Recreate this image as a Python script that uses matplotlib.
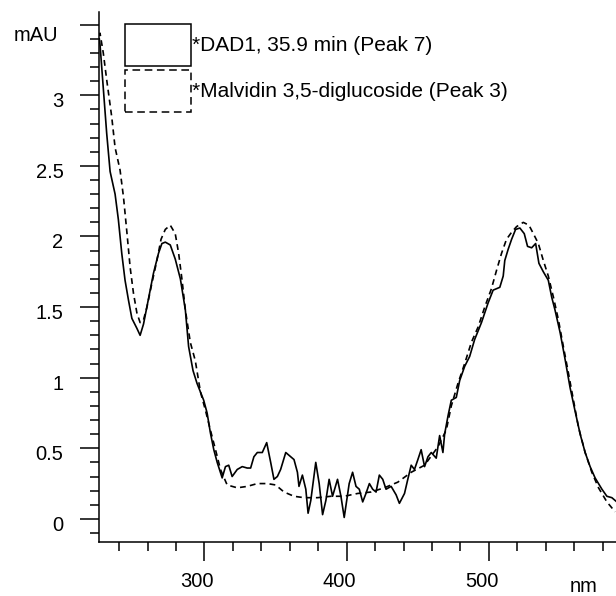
import matplotlib
matplotlib.use("Agg")
import matplotlib.pyplot as plt
from matplotlib.patches import Patch
from matplotlib.transforms import ScaledTranslation

# DAD1 spectrum of the sample peak (solid)
wl_sample = [226.1, 226.6, 228.9, 231.3, 233.7, 237.2, 239.5, 241.9, 244.2, 246.6,
             249.0, 252.5, 254.8, 257.2, 260.7, 264.2, 267.7, 270.1, 272.5, 276.0,
             279.5, 283.1, 286.6, 288.9, 292.0, 294.8, 299.5, 301.9, 304.2, 306.6,
             309.0, 312.5, 314.8, 317.1, 319.5, 323.1, 326.6, 330.1, 332.5, 334.8,
             337.2, 340.7, 343.8, 346.6, 348.9, 351.3, 353.6, 357.2, 359.5, 363.0,
             365.4, 366.5, 368.9, 371.3, 372.9, 374.8, 378.3, 380.7, 383.1, 385.4,
             387.7, 390.1, 393.6, 396.0, 398.3, 401.8, 404.2, 406.6, 408.9, 411.3,
             413.6, 416.0, 418.3, 420.7, 423.0, 425.4, 427.7, 431.3, 434.8, 437.1,
             440.7, 443.0, 445.4, 447.7, 450.1, 452.4, 454.8, 457.2, 459.5, 463.0,
             465.4, 467.7, 468.9, 471.3, 473.6, 477.1, 479.5, 483.0, 486.5, 490.0,
             494.8, 499.5, 503.0, 507.7, 510.1, 511.2, 513.6, 516.0, 518.8, 521.8,
             524.9, 527.2, 530.1, 532.9, 535.2, 538.3, 541.8, 544.2, 546.5, 550.1,
             553.6, 557.1, 560.7, 564.2, 567.7, 571.2, 574.7, 579.5, 583.0, 586.5,
             590.0]
abs_sample = [3.40, 3.36, 3.05, 2.73, 2.46, 2.30, 2.12, 1.88, 1.69, 1.55,
              1.42, 1.35, 1.30, 1.38, 1.56, 1.74, 1.88, 1.95, 1.96, 1.94,
              1.84, 1.70, 1.48, 1.22, 1.05, 0.96, 0.84, 0.75, 0.61, 0.49,
              0.40, 0.29, 0.37, 0.38, 0.30, 0.35, 0.37, 0.36, 0.36, 0.44,
              0.47, 0.47, 0.54, 0.40, 0.28, 0.30, 0.35, 0.47, 0.45, 0.42,
              0.33, 0.23, 0.31, 0.21, 0.04, 0.13, 0.40, 0.25, 0.03, 0.13,
              0.28, 0.16, 0.28, 0.16, 0.01, 0.25, 0.33, 0.23, 0.21, 0.12,
              0.18, 0.25, 0.21, 0.19, 0.31, 0.28, 0.21, 0.23, 0.17, 0.11,
              0.18, 0.28, 0.38, 0.35, 0.42, 0.49, 0.37, 0.44, 0.47, 0.43,
              0.59, 0.47, 0.60, 0.73, 0.84, 0.86, 0.98, 1.08, 1.15, 1.27,
              1.39, 1.53, 1.62, 1.64, 1.72, 1.83, 1.91, 1.98, 2.05, 2.06,
              2.02, 1.93, 1.92, 1.95, 1.81, 1.75, 1.69, 1.57, 1.48, 1.32,
              1.13, 0.93, 0.76, 0.60, 0.47, 0.37, 0.29, 0.21, 0.16, 0.15,
              0.12]

# library spectrum of malvidin 3,5-diglucoside (dashed)
wl_std = [226.3, 226.6, 228.9, 231.3, 234.8, 237.2, 240.7, 243.1, 245.5, 247.8,
          250.1, 252.5, 254.8, 257.2, 259.6, 263.1, 266.6, 269.5, 272.5, 276.0,
          279.5, 281.9, 284.3, 286.6, 290.1, 293.6, 297.2, 300.7, 304.2, 307.8,
          311.3, 316.0, 323.1, 330.1, 337.2, 344.2, 350.1, 356.0, 363.0, 370.1,
          379.5, 388.9, 398.3, 407.8, 417.1, 426.5, 436.0, 445.4, 454.8, 464.2,
          470.1, 473.6, 478.3, 483.0, 487.7, 492.5, 497.1, 501.8, 505.4, 508.9,
          512.4, 516.0, 519.5, 524.2, 528.2, 531.3, 534.8, 538.3, 541.8, 545.4,
          548.9, 552.4, 556.0, 559.5, 563.0, 567.7, 572.4, 577.1, 583.0, 588.8]
abs_std = [3.42, 3.44, 3.30, 3.11, 2.85, 2.63, 2.47, 2.28, 2.03, 1.78,
           1.60, 1.46, 1.39, 1.41, 1.50, 1.67, 1.83, 1.98, 2.05, 2.08,
           2.02, 1.88, 1.69, 1.48, 1.25, 1.12, 0.90, 0.77, 0.63, 0.49,
           0.35, 0.24, 0.22, 0.23, 0.25, 0.25, 0.24, 0.19, 0.16, 0.15,
           0.15, 0.16, 0.16, 0.18, 0.19, 0.22, 0.26, 0.33, 0.38, 0.51,
           0.63, 0.80, 0.96, 1.10, 1.25, 1.36, 1.50, 1.63, 1.76, 1.88,
           1.98, 2.03, 2.07, 2.10, 2.08, 2.02, 1.95, 1.83, 1.72, 1.57,
           1.41, 1.22, 1.03, 0.84, 0.65, 0.47, 0.33, 0.22, 0.12, 0.05]

labels = ['*DAD1, 35.9 min (Peak 7)', '*Malvidin 3,5-diglucoside (Peak 3)']
x_major = [300, 400, 500]
y_major = [0, 0.5, 1, 1.5, 2, 2.5, 3, 3.5]
y_major_labels = ['0', '0.5', '1', '1.5', '2', '2.5', '3', 'mAU']

plt.rcParams['font.family'] = ['Liberation Sans', 'DejaVu Sans']

W, H = 616, 596
fig = plt.figure(figsize=(W / 100, H / 100), dpi=100)
ax = fig.add_axes([99.3 / W, 1 - 542.3 / H, 1 - 99.3 / W, (542.3 - 12) / H])

dash = (0, (3.5, 2.5))
ax.plot(wl_sample, abs_sample, color='black', lw=1.2)
ax.plot(wl_std, abs_std, color='black', lw=1.2, linestyle=dash)

ax.set_xlim(226.1, 589.4)
ax.set_ylim(-0.166, 3.59)

for side in ['top', 'right']:
    ax.spines[side].set_visible(False)
for side in ['left', 'bottom']:
    ax.spines[side].set_linewidth(1.1)

ax.set_xticks(x_major)
ax.set_xticks([v for v in range(240, 590, 20) if v not in x_major], minor=True)
ax.set_yticks(y_major)
ax.set_yticklabels(y_major_labels)
ax.set_yticks([round(-0.1 + 0.1 * i, 1) for i in range(37) if round(-0.1 + 0.1 * i, 1) not in y_major], minor=True)

ax.tick_params(which='major', direction='out', length=13.7, width=1.1, labelsize=14.5)
ax.tick_params(which='minor', direction='out', length=6.5, width=1.1)
ax.tick_params(axis='x', which='major', pad=8)
ax.tick_params(axis='y', which='major', pad=12)

for lbl in ax.get_xticklabels():
    lbl.set_transform(lbl.get_transform() + ScaledTranslation(-0.07, 0, fig.dpi_scale_trans))
ylbls = ax.get_yticklabels()
for lbl in ylbls[:-1]:
    lbl.set_transform(lbl.get_transform() + ScaledTranslation(0, -0.045, fig.dpi_scale_trans))
ylbls[-1].set_transform(ylbls[-1].get_transform() + ScaledTranslation(-0.05, -0.09, fig.dpi_scale_trans))

fig.text(584 / W, 1 - 586 / H, 'nm', fontsize=14.5, ha='center', va='center')

handles = [Patch(facecolor='none', edgecolor='black', linewidth=1.1),
           Patch(facecolor='none', edgecolor='black', linewidth=1.1, linestyle=(0, (5, 3)))]
ax.legend(handles, labels, loc='upper left', bbox_to_anchor=(125 / W, 1 - 24 / H),
          bbox_transform=fig.transFigure, frameon=False, fontsize=15,
          handlelength=3.17, handleheight=2.725, handletextpad=0.05,
          labelspacing=0.2, borderpad=0, borderaxespad=0)

fig.savefig('out.png', dpi=100)
